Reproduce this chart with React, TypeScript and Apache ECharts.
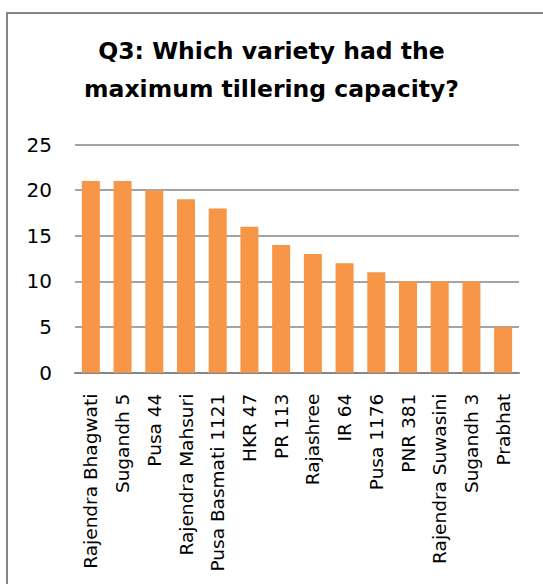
import React, { useEffect, useRef } from "react";
import * as echarts from "echarts";

const categories = [
  "Rajendra Bhagwati",
  "Sugandh 5",
  "Pusa 44",
  "Rajendra Mahsuri",
  "Pusa Basmati 1121",
  "HKR 47",
  "PR 113",
  "Rajashree",
  "IR 64",
  "Pusa 1176",
  "PNR 381",
  "Rajendra Suwasini",
  "Sugandh 3",
  "Prabhat",
];
const tillers = [21, 21, 20, 19, 18, 16, 14, 13, 12, 11, 10, 10, 10, 5];
const titleLines = ["Q3: Which variety had the", "maximum tillering capacity?"];

export default function App() {
  const ref = useRef<HTMLDivElement>(null);
  useEffect(() => {
    if (!ref.current) return;
    const chart = echarts.init(ref.current, null, { renderer: "svg" });
    const font = "'DejaVu Sans', sans-serif";
    chart.setOption({
      animation: false,
      backgroundColor: "#ffffff",
      title: {
        text: titleLines.join("\n"),
        left: "center",
        top: 27,
        textStyle: {
          fontFamily: font,
          fontSize: 23.5,
          fontWeight: "bold",
          color: "#000",
          lineHeight: 38,
        },
      },
      graphic: [
        {
          type: "rect",
          shape: { x: 7, y: 13, width: 600, height: 620 },
          style: { fill: "none", stroke: "#868686", lineWidth: 2 },
          silent: true,
        },
      ],
      grid: { left: 75, right: 24, top: 144.5, bottom: 211.3 },
      xAxis: {
        type: "category",
        data: categories,
        axisLine: { show: true, lineStyle: { color: "#868686", width: 2 } },
        axisTick: { show: false },
        axisLabel: {
          rotate: 90,
          interval: 0,
          margin: 21,
          fontFamily: font,
          fontSize: 18.5,
          color: "#000",
        },
      },
      yAxis: {
        type: "value",
        min: 0,
        max: 25,
        interval: 5,
        axisLine: { show: false },
        axisTick: { show: false },
        splitLine: { lineStyle: { color: "#868686", width: 1.5 } },
        axisLabel: {
          margin: 23,
          fontFamily: font,
          fontSize: 20,
          color: "#000",
        },
      },
      series: [
        {
          type: "bar",
          data: tillers,
          barWidth: 18,
          itemStyle: { color: "#F79646" },
        },
      ],
    });
    return () => chart.dispose();
  }, []);
  return (
    <div
      ref={ref}
      style={{ position: "absolute", left: 0, top: 0, width: 543, height: 584 }}
    />
  );
}
